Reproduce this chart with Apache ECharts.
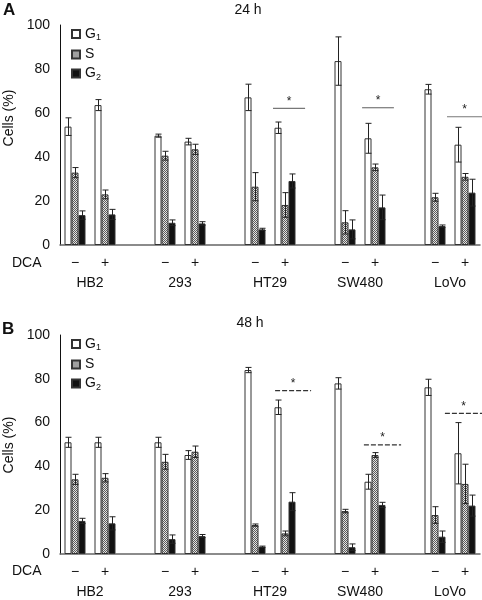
<!DOCTYPE html>
<html>
<head>
    <meta charset="utf-8">
    <title>Cell cycle DCA</title>
    <script src="https://cdn.jsdelivr.net/npm/echarts@6.0.0/dist/echarts.min.js"></script>
    <style>
        html, body { margin: 0; padding: 0; background: #fff; }
        #main { width: 482px; height: 600px; }
    </style>
</head>
<body>
<div id="main"></div>
<script type="text/javascript">
    // x slots: each cell line has a "-" slot, a "+" slot and an empty spacer
    var slotLabels = ['−', '+', '', '−', '+', '', '−', '+', '', '−', '+', '', '−', '+'];
    var dataSlots = [0, 1, 3, 4, 6, 7, 9, 10, 12, 13];
    var groups = ['HB2', '293', 'HT29', 'SW480', 'LoVo'];
    var groupPos = [1, 4, 7, 10, 13];
    var phases = ['G1', 'S', 'G2'];

    // 24 h, order: HB2-, HB2+, 293-, 293+, HT29-, HT29+, SW480-, SW480+, LoVo-, LoVo+
    var g1_24 = [53.8, 63.6, 49.7, 47.0, 67.1, 53.3, 83.6, 48.5, 70.8, 45.6];
    var g1Err_24 = [4.0, 2.5, 0.7, 1.5, 6.0, 2.6, 11.0, 6.8, 2.2, 7.9];
    var s_24 = [32.9, 23.0, 40.6, 43.5, 26.5, 18.2, 10.3, 35.3, 21.7, 31.0];
    var sErr_24 = [2.3, 2.0, 2.0, 2.3, 6.4, 5.6, 5.3, 1.5, 1.8, 1.5];
    var g2_24 = [13.6, 13.9, 10.1, 9.8, 7.1, 29.1, 7.1, 17.1, 8.6, 23.8];
    var g2Err_24 = [1.9, 2.3, 1.3, 0.8, 0.5, 3.2, 4.3, 5.6, 0.5, 6.1];

    // 48 h
    var g1_48 = [51.0, 51.0, 51.0, 45.2, 84.0, 67.0, 77.9, 33.0, 76.1, 46.0];
    var g1Err_48 = [2.3, 2.3, 2.3, 2.0, 1.2, 3.3, 2.6, 3.4, 3.7, 14.0];
    var s_48 = [34.1, 34.8, 42.1, 46.7, 13.2, 9.4, 19.6, 45.2, 17.8, 32.0];
    var sErr_48 = [2.3, 1.9, 3.4, 2.6, 0.5, 1.1, 0.8, 1.1, 3.8, 9.0];
    var g2_48 = [15.1, 14.0, 6.8, 8.2, 3.3, 23.9, 3.1, 22.4, 7.9, 22.1];
    var g2Err_48 = [1.2, 3.0, 1.9, 0.7, 0.3, 4.1, 1.5, 1.2, 2.6, 4.8];

    // significance bars: [x start, x end, y] in slot units
    var sig_24 = [[7.1, 8.17, 62.1], [10.07, 11.13, 62.4], [12.9, 14.07, 58.3]];
    var sig_48 = [[7.17, 8.37, 74.6], [10.13, 11.37, 49.8], [12.83, 14.07, 64.2]];

    var FONT = "'Liberation Sans', Arial, sans-serif";
    var BAR_W = 7;

    // checkered fill for S
    var pat = document.createElement('canvas');
    pat.width = 2; pat.height = 2;
    var pc = pat.getContext('2d');
    pc.fillStyle = '#e4e4e4'; pc.fillRect(0, 0, 2, 2);
    pc.fillStyle = '#5a5a5a'; pc.fillRect(0, 0, 1, 1); pc.fillRect(1, 1, 1, 1);

    var colors = ['#ffffff', {image: pat, repeat: 'repeat'}, '#111111'];

    function toSlots(vals) {
        var out = slotLabels.map(function () { return null; });
        dataSlots.forEach(function (s, i) { out[s] = vals[i]; });
        return out;
    }
    function errData(vals, errs) {
        return dataSlots.map(function (s, i) { return [s, vals[i] - errs[i], vals[i] + errs[i]]; });
    }

    function errRender(offset) {
        return function (params, api) {
            var x = api.value(0);
            var lo = api.coord([x, api.value(1)]);
            var hi = api.coord([x, api.value(2)]);
            var cx = Math.round(lo[0] + offset) + 0.5;
            var st = {stroke: '#222', lineWidth: 1};
            return {
                type: 'group',
                children: [
                    {type: 'line', shape: {x1: cx, y1: lo[1], x2: cx, y2: hi[1]}, style: st},
                    {type: 'line', shape: {x1: cx - 3, y1: hi[1], x2: cx + 3, y2: hi[1]}, style: st},
                    {type: 'line', shape: {x1: cx - 3, y1: lo[1], x2: cx + 3, y2: lo[1]}, style: st}
                ]
            };
        };
    }

    function sigRender(dashed) {
        return function (params, api) {
            var a = api.coord([api.value(0), api.value(2)]);
            var b = api.coord([api.value(1), api.value(2)]);
            return {
                type: 'group',
                children: [
                    {type: 'line', shape: {x1: a[0], y1: a[1], x2: b[0], y2: b[1]},
                        style: {stroke: dashed ? '#333' : '#777', lineWidth: 1.2, lineDash: dashed ? [5, 2] : null}},
                    {type: 'text', x: (a[0] + b[0]) / 2, y: a[1] - 7,
                        style: {text: '*', fontSize: 12, fontFamily: FONT, fill: '#222', align: 'center', verticalAlign: 'middle'}}
                ]
            };
        };
    }

    function panelSeries(gi, valsList, errList, sig, dashed) {
        var out = [];
        valsList.forEach(function (vals, k) {
            out.push({
                name: phases[k], type: 'bar', xAxisIndex: gi * 2, yAxisIndex: gi,
                barWidth: BAR_W, barGap: '0%',
                itemStyle: {color: colors[k], borderColor: '#333', borderWidth: 1},
                data: toSlots(vals), z: 2
            });
        });
        valsList.forEach(function (vals, k) {
            out.push({
                type: 'custom', xAxisIndex: gi * 2, yAxisIndex: gi, z: 3,
                renderItem: errRender((k - 1) * BAR_W),
                data: errData(vals, errList[k])
            });
        });
        out.push({
            type: 'custom', xAxisIndex: gi * 2 + 1, yAxisIndex: gi, z: 4,
            renderItem: sigRender(dashed), data: sig
        });
        return out;
    }

    function xAxes(gi) {
        return [{
            type: 'category', gridIndex: gi, data: slotLabels,
            axisLine: {lineStyle: {color: '#666', width: 1.5}},
            axisTick: {show: false},
            axisLabel: {interval: 0, fontSize: 14, color: '#111', fontFamily: FONT, margin: 11}
        }, {
            type: 'value', gridIndex: gi, min: 0, max: 14, position: 'bottom',
            axisLine: {show: false}, axisTick: {show: false}, splitLine: {show: false},
            axisLabel: {
                customValues: groupPos, fontSize: 14, color: '#111', fontFamily: FONT, margin: 31,
                formatter: function (v) { return groups[groupPos.indexOf(Math.round(v))] || ''; }
            }
        }];
    }

    function yAxis(gi) {
        return {
            type: 'value', gridIndex: gi, min: 0, max: 100, interval: 20,
            axisLine: {show: true, lineStyle: {color: '#111', width: 1}},
            axisTick: {show: false}, splitLine: {show: false},
            axisLabel: {fontSize: 14, color: '#111', fontFamily: FONT, margin: 10}
        };
    }

    function legend(top) {
        return {
            orient: 'vertical', left: 66, top: top, icon: 'rect',
            itemWidth: 8, itemHeight: 8, itemGap: 5,
            data: phases, selectedMode: false,
            textStyle: {
                fontSize: 14, color: '#111', fontFamily: FONT,
                rich: {
                    m: {fontSize: 14, fontFamily: FONT, color: '#111', lineHeight: 17},
                    s: {fontSize: 9, fontFamily: FONT, color: '#111', lineHeight: 17, verticalAlign: 'bottom'}
                }
            },
            formatter: function (n) {
                return n.length > 1 ? '{m|' + n.charAt(0) + '}{s|' + n.charAt(1) + '}' : '{m|' + n + '}';
            }
        };
    }

    function txt(t, x, y, extra) {
        var st = {text: t, fontSize: 14, fontFamily: FONT, fill: '#111', align: 'left', verticalAlign: 'middle'};
        for (var k in extra) st[k] = extra[k];
        return {type: 'text', x: x, y: y, style: st};
    }

    var dom = document.getElementById('main');
    var myChart = echarts.init(dom, null, {renderer: 'canvas'});

    var option = {
        animation: false,
        grid: [
            {left: 60, top: 25, width: 420, height: 220},
            {left: 60, top: 335, width: 420, height: 219}
        ],
        xAxis: xAxes(0).concat(xAxes(1)),
        yAxis: [yAxis(0), yAxis(1)],
        legend: [legend(22), legend(332)],
        series: panelSeries(0, [g1_24, s_24, g2_24], [g1Err_24, sErr_24, g2Err_24], sig_24, false)
            .concat(panelSeries(1, [g1_48, s_48, g2_48], [g1Err_48, sErr_48, g2Err_48], sig_48, true)),
        graphic: [
            txt('A', 3, 10, {fontSize: 17, fontWeight: 'bold'}),
            txt('24 h', 248, 10, {align: 'center'}),
            {type: 'text', x: 9, y: 118, rotation: Math.PI / 2,
                style: {text: 'Cells (%)', fontSize: 14, fontFamily: FONT, fill: '#111', align: 'center', verticalAlign: 'middle'}},
            txt('DCA', 12, 263),
            txt('B', 2, 329, {fontSize: 17, fontWeight: 'bold'}),
            txt('48 h', 250, 323, {align: 'center'}),
            {type: 'text', x: 9, y: 445, rotation: Math.PI / 2,
                style: {text: 'Cells (%)', fontSize: 14, fontFamily: FONT, fill: '#111', align: 'center', verticalAlign: 'middle'}},
            txt('DCA', 12, 571)
        ]
    };

    myChart.setOption(option);
    window.addEventListener('resize', myChart.resize);
</script>
</body>
</html>
